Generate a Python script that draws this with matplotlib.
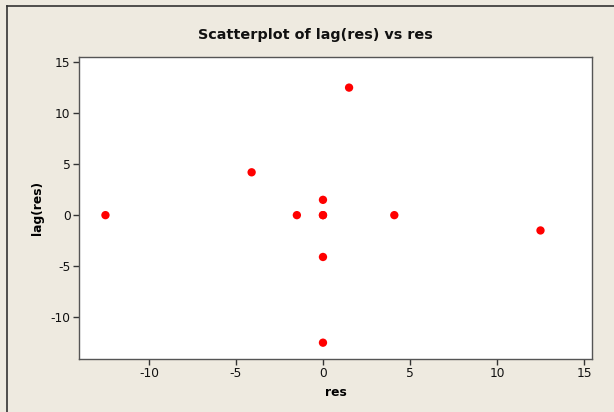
import matplotlib
matplotlib.use("Agg")
import matplotlib.pyplot as plt
from matplotlib.lines import Line2D

res = [-12.5, -4.1, -1.5, 0.0, 0.0, 0.0, 0.0, 0.0, 1.5, 4.1, 12.5]
lag_res = [0.0, 4.2, 0.0, 0.0, 1.5, -4.1, -12.5, 0.0, 12.5, 0.0, -1.5]
xticks = [-10, -5, 0, 5, 10, 15]
yticks = [-10, -5, 0, 5, 10, 15]

bg = "#EEEAE0"
W, H = 614, 412
fig = plt.figure(figsize=(W/100, H/100), dpi=100, facecolor=bg)
plt.rcParams['font.family'] = ['Verdana', 'DejaVu Sans']

l, r, t, b = 79, 592, 57, 359
ax = fig.add_axes([l/W, 1 - b/H, (r-l)/W, (b-t)/H])
ax.set_facecolor("white")
ax.scatter(res, lag_res, s=36, color="#FF0000", edgecolors="none", zorder=3)
ax.set_xlim(-14.02, 15.46)
ax.set_ylim(-14.1, 15.5)
ax.set_xticks(xticks)
ax.set_yticks(yticks)
ax.set_xticklabels([str(v) for v in xticks])
ax.set_yticklabels([str(v) for v in yticks])
ax.tick_params(direction="out", length=4, width=1, color="#333333",
               labelsize=8.8, labelcolor="#111111", pad=2)
for s in ax.spines.values():
    s.set_color("#555555")
    s.set_linewidth(1.0)

ax.set_xlabel("res", fontsize=8.8, fontweight="bold", labelpad=4)
ax.set_ylabel("lag(res)", fontsize=8.8, fontweight="bold", labelpad=5)

fig.text(315/W, 1 - 35/H, "Scatterplot of lag(res) vs res", ha="center", va="center",
         fontsize=10.4, fontweight="bold", color="#111111")

# window border lines
fig.add_artist(Line2D([7/W, 7/W], [0, 1 - 6/H], color="#333333", lw=1.2, transform=fig.transFigure))
fig.add_artist(Line2D([7/W, 1], [1 - 6/H, 1 - 6/H], color="#333333", lw=1.2, transform=fig.transFigure))

fig.savefig("out.png", dpi=100, facecolor=bg)
